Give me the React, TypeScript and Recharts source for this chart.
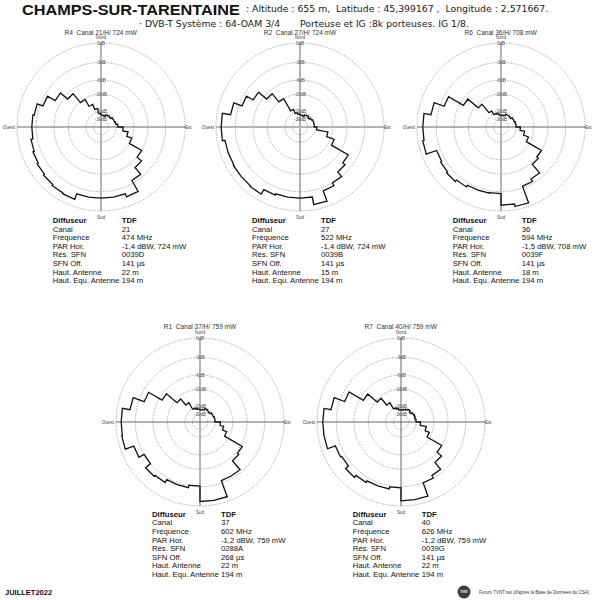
import { PolarAngleAxis, PolarGrid, PolarRadiusAxis, Radar, RadarChart } from "recharts";

const FONT = '"Liberation Sans", Arial, sans-serif';
const HEAD_FONT = '"DejaVu Sans", Verdana, sans-serif';

// attenuation rings (dB) and where they sit as a fraction of the outer radius
const RING_DB = [0, -3, -6, -10, -20, -30, -40];
const RING_POS = [1, 0.77, 0.56, 0.39, 0.18, 0.09, 0];
const RING_LABELS = ["0dB", "-3dB", "-6dB", "-10dB", "-20dB", "-30dB"];
const COMPASS_TICKS = [0, 90, 180, 270];
const COMPASS_LABELS: Record<number, string> = { 0: "Nord", 90: "Est", 180: "Sud", 270: "Ouest" };
const SECTOR_DEG = 10;

// horizontal pattern, dB per 10° sector, clockwise from north
const R4_DB = [-24, -25, -23, -22, -23, -21, -21, -20, -19, -16, -13, -10, -6, -5, -3.5, -1.5, -2, -2,
  -2, -2, -1.1, -1.2, -1.4, -1.6, -1.8, -2, -2.3, -2.3, -2.5, -3.5, -5, -7, -10.5, -15, -18, -22];
const R2_DB = [-24, -25, -23, -22, -24, -22, -21, -21, -21, -19, -12.5, -9, -4.5, -4, -3, -2.5, -0.8, -2,
  -2, -2, -1.8, -1, -1.1, -1.1, -1.2, -1.2, -0.8, -0.8, -2.1, -3.5, -4.8, -7, -10, -18, -21, -23];
const R6_DB = [-25, -24, -22, -22, -23, -21, -21, -20, -20, -17.6, -15, -12, -6.1, -5.7, -3.8, -3.3, -0.5, -0.9,
  -2.7, -2.6, -2.6, -2.3, -2, -2.2, -2.4, -0.7, -0.9, -0.9, -2, -3.7, -7, -11.7, -18, -21, -22, -24];
const R1_DB = [-24, -23, -21, -22, -23, -21, -21, -20, -20, -17, -15, -12.5, -5.7, -5.4, -3.4, -3.4, -0.7, -0.7,
  -3.1, -2.7, -2.7, -2.2, -2, -3, -2.1, -0.7, -0.8, -0.8, -2, -3.9, -6.9, -11.5, -16, -20.5, -22, -23];
const R7_DB = [-24, -23, -22, -21, -23, -21, -20, -21, -20, -17.5, -14, -11.5, -6, -5, -3.5, -3, -0.8, -0.8,
  -2.8, -2.5, -2.5, -2.2, -1.8, -2.4, -2.2, -0.9, -0.9, -0.9, -2, -3.8, -7, -11, -16, -20, -22, -24];

const ROW_LABELS = ["Diffuseur", "Canal", "Fréquence", "PAR Hor.", "Rés. SFN", "SFN Off.", "Haut. Antenne", "Haut. Equ. Antenne"];
const R4_INFO = ["TDF", "21", "474 MHz", "-1,4 dBW, 724 mW", "0039D", "141 µs", "22 m", "194 m"];
const R2_INFO = ["TDF", "27", "522 MHz", "-1,4 dBW, 724 mW", "0039B", "141 µs", "15 m", "194 m"];
const R6_INFO = ["TDF", "36", "594 MHz", "-1,5 dBW, 708 mW", "0039F", "141 µs", "18 m", "194 m"];
const R1_INFO = ["TDF", "37", "602 MHz", "-1,2 dBW, 759 mW", "0288A", "268 µs", "22 m", "194 m"];
const R7_INFO = ["TDF", "40", "626 MHz", "-1,2 dBW, 759 mW", "0039G", "141 µs", "22 m", "194 m"];

const SITES = [
  { title: "R4  Canal 21/H/ 724 mW", db: R4_DB, info: R4_INFO, x: 100.7, y: 127.3, thick: "v" },
  { title: "R2  Canal 27/H/ 724 mW", db: R2_DB, info: R2_INFO, x: 300, y: 127.3, thick: "h" },
  { title: "R6  Canal 36/H/ 708 mW", db: R6_DB, info: R6_INFO, x: 500.7, y: 127.3, thick: "v" },
  { title: "R1  Canal 37/H/ 759 mW", db: R1_DB, info: R1_INFO, x: 200, y: 421.7, thick: "v" },
  { title: "R7  Canal 40/H/ 759 mW", db: R7_DB, info: R7_INFO, x: 400.7, y: 421.7, thick: "" },
];

function dbToRadius(db: number): number {
  for (let i = 0; i < RING_DB.length - 1; i++) {
    if (db <= RING_DB[i] && db >= RING_DB[i + 1]) {
      const t = (RING_DB[i] - db) / (RING_DB[i] - RING_DB[i + 1]);
      return RING_POS[i] + t * (RING_POS[i + 1] - RING_POS[i]);
    }
  }
  return 0;
}

// each sector is an arc of constant level, so emit both of its edges
function stepData(db: number[]) {
  return db.flatMap((v, i) => [
    { angle: i * SECTOR_DEG, level: dbToRadius(v) },
    { angle: (i + 1) * SECTOR_DEG, level: dbToRadius(v) },
  ]);
}

const RingTick = (props: any) => {
  const { x, y, payload } = props;
  const idx = RING_POS.indexOf(payload.value);
  if (idx < 0 || idx >= RING_LABELS.length) return null;
  return (
    <text x={x} y={y + 1.6} textAnchor="middle" fontSize={4.6} fill="#555" fontFamily={FONT}>
      {RING_LABELS[idx]}
    </text>
  );
};

const CompassTick = (props: any) => {
  const { x, y, payload } = props;
  const v = payload.value;
  let anchor = "middle";
  let dy = 1.6;
  let dx = 0;
  if (v === 0) dy = -1;
  if (v === 180) dy = 4.5;
  if (v === 90) { anchor = "start"; dx = -3; }
  if (v === 270) { anchor = "end"; dx = 1; }
  return (
    <text x={x + dx} y={y + dy} textAnchor={anchor} fontSize={4.6} fill="#444" fontFamily={FONT}>
      {COMPASS_LABELS[v]}
    </text>
  );
};

function Diagram({ site }: { site: (typeof SITES)[number] }) {
  const data = stepData(site.db);
  return (
    <div style={{ position: "absolute", left: site.x - 100, top: site.y - 100 }}>
      <RadarChart width={200} height={200} data={data} cx={100} cy={100} outerRadius={84}
        startAngle={90} endAngle={-270} margin={{ top: 0, right: 0, bottom: 0, left: 0 }}>
        <PolarGrid gridType="circle" radialLines={false} stroke="#7a7a7a" strokeWidth={0.8} strokeDasharray="1 1.4" />
        <PolarGrid gridType="circle" polarRadius={[]} polarAngles={[90, 270]}
          stroke={site.thick === "v" ? "#b5b5b5" : "#555"} strokeWidth={site.thick === "v" ? 2 : 0.9} />
        <PolarGrid gridType="circle" polarRadius={[]} polarAngles={[0, 180]}
          stroke={site.thick === "h" ? "#b5b5b5" : "#555"} strokeWidth={site.thick === "h" ? 2 : 0.9} />
        <PolarAngleAxis dataKey="angle" type="number" domain={[0, 360]} ticks={COMPASS_TICKS}
          axisLine={false} tickLine={false} tickSize={3} tick={CompassTick} />
        <PolarRadiusAxis angle={90} type="number" domain={[0, 1]} ticks={RING_POS.slice(0, 6)}
          axisLine={false} tickLine={false} tick={RingTick} />
        <Radar dataKey="level" stroke="#111" strokeWidth={1.3} fill="none" fillOpacity={0}
          dot={false} isAnimationActive={false} />
      </RadarChart>
    </div>
  );
}

function InfoTable({ site, top }: { site: (typeof SITES)[number]; top: number }) {
  return (
    <div style={{ position: "absolute", left: site.x - 48, top, fontFamily: FONT, fontSize: 7.7, lineHeight: "8.6px", color: "#111" }}>
      {ROW_LABELS.map((label, i) => (
        <div key={label} style={{ position: "relative", height: 8.6, whiteSpace: "nowrap", fontWeight: i === 0 ? 700 : 400 }}>
          <span>{label}</span>
          <span style={{ position: "absolute", left: 69 }}>{site.info[i]}</span>
        </div>
      ))}
    </div>
  );
}

export default function App() {
  return (
    <div style={{ position: "absolute", left: 0, top: 0, width: 600, height: 600, background: "#fff", overflow: "hidden", fontFamily: FONT }}>
      <div style={{ position: "absolute", left: 22, top: 2.5, fontSize: 14.5, lineHeight: 1, fontWeight: 700, color: "#111",
        whiteSpace: "nowrap", transform: "scaleX(1.12)", transformOrigin: "0 0" }}>
        CHAMPS-SUR-TARENTAINE
      </div>
      <div style={{ position: "absolute", left: 246, top: 4, fontFamily: HEAD_FONT, fontSize: 9.3, lineHeight: 1, color: "#222", whiteSpace: "pre" }}>
        {": Altitude : 655 m,  Latitude : 45,399167 ,  Longitude : 2,571667."}
      </div>
      <div style={{ position: "absolute", left: 139, top: 18.6, fontFamily: HEAD_FONT, fontSize: 9.3, lineHeight: 1, color: "#222", whiteSpace: "pre" }}>
        {"· DVB-T Système : 64-OAM 3/4"}
      </div>
      <div style={{ position: "absolute", left: 300, top: 18.6, fontFamily: HEAD_FONT, fontSize: 9.3, lineHeight: 1, color: "#222", whiteSpace: "pre" }}>
        {"Porteuse et IG :8k porteuses. IG 1/8."}
      </div>

      {SITES.map((s) => (
        <Diagram key={s.title} site={s} />
      ))}

      {SITES.map((s) => (
        <div key={s.title + "t"} style={{ position: "absolute", left: s.x - 60, width: 120, top: s.y - 97.8, textAlign: "center", fontSize: 6.5, lineHeight: 1, color: "#333", whiteSpace: "pre" }}>
          {s.title}
        </div>
      ))}

      {SITES.map((s, i) => (
        <InfoTable key={s.title + "i"} site={s} top={i < 3 ? 217 : 510.8} />
      ))}

      <div style={{ position: "absolute", left: 5, top: 589.3, fontSize: 7.5, lineHeight: 1, fontWeight: 700, color: "#111" }}>
        JUILLET2022
      </div>
      <svg style={{ position: "absolute", left: 457, top: 585 }} width={14} height={14}>
        <circle cx={7} cy={7} r={6.5} fill="#3d3d3d" />
        <text x={7} y={7.8} textAnchor="middle" fontSize={2.8} fill="#fff" fontFamily={FONT} fontWeight={700}>TVNT</text>
      </svg>
      <div style={{ position: "absolute", left: 479, top: 590.8, fontSize: 4.5, lineHeight: 1, color: "#333", whiteSpace: "nowrap" }}>
        Forum TVNT.net (d'après la Base de Données du CSA)
      </div>
    </div>
  );
}
